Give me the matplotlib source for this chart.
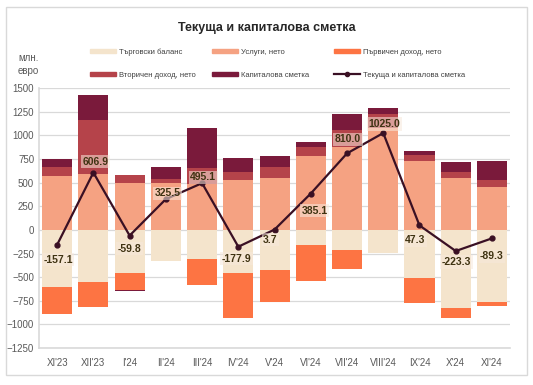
import matplotlib.pyplot as plt
import numpy as np
from matplotlib.patches import Rectangle
from matplotlib.lines import Line2D

plt.rcParams['font.family'] = ['Liberation Sans', 'DejaVu Sans']

# months and components (mln. euro)
months = ["XI'23", "XII'23", "I'24", "II'24", "III'24", "IV'24", "V'24",
          "VI'24", "VII'24", "VIII'24", "IX'24", "X'24", "XI'24"]
trade = [-604, -554, -460, -328, -304, -459, -427, -155, -208, -244, -508, -830, -759]
services = [573, 595, 492, 500, 490, 530, 545, 782, 880, 1080, 732, 552, 449]
primary = [-289, -265, -177, 0, -275, -473, -339, -382, -202, 0, -269, -102, -46]
secondary = [95, 572, 92, 36, 170, 85, 123, 99, 180, 150, 60, 63, 82]
capital = [82, 265, -14, 127, 420, 145, 110, 53, 166, 56, 39, 99, 194]
total = [-157.1, 606.9, -59.8, 325.5, 495.1, -177.9, 3.7, 385.1, 810.0, 1025.0, 47.3, -223.3, -89.3]

# label offsets in pixels (dx, dy)
lbl_off = [(1, -15), (2, 11), (0, -13), (2, 6), (1, 6), (-2, -12), (-4, -10),
           (4, -17), (1, 14), (1, 9), (-4, -15), (1, -11), (0, -18)]

c_trade = '#f4e4cc'
c_serv = '#f5a282'
c_prim = '#fd7443'
c_sec = '#b5434a'
c_cap = '#7a1a3b'
c_line = '#3a1024'

fig = plt.figure(figsize=(5.33, 3.85), dpi=100)
ax = fig.add_axes([0.0732, 0.096, 0.8838, 0.675])

x = np.arange(len(months))
w = 0.83

# stack positives and negatives separately
pos = np.zeros(len(x))
neg = np.zeros(len(x))
for vals, col in [(trade, c_trade), (services, c_serv), (primary, c_prim),
                  (secondary, c_sec), (capital, c_cap)]:
    v = np.array(vals, dtype=float)
    bottoms = np.where(v >= 0, pos, neg)
    ax.bar(x, v, w, bottom=bottoms, color=col, zorder=2)
    pos = pos + np.where(v >= 0, v, 0)
    neg = neg + np.where(v < 0, v, 0)

ax.plot(x, total, color=c_line, lw=1.6, marker='o', ms=3.5, zorder=4)

for i, t in enumerate(total):
    ax.annotate(f"{t:.1f}", (x[i], t), xytext=lbl_off[i], textcoords='offset pixels',
                ha='center', va='center', fontsize=7.5, fontweight='bold', color='#3f3312',
                zorder=5,
                bbox=dict(boxstyle='square,pad=0.15', fc='#f7e9dc', ec='none', alpha=0.55))

ax.set_xlim(-0.5, 12.5)
ax.set_ylim(-1250, 1500)
ax.set_yticks(np.arange(-1250, 1501, 250))
ax.set_xticks(x)
ax.set_xticklabels(months)
ax.tick_params(axis='both', length=0, labelsize=7, colors='#595959')
ax.tick_params(axis='x', pad=7)
ax.grid(axis='y', color='#d9d9d9', lw=0.9, zorder=0)
for s in ['top', 'right']:
    ax.spines[s].set_visible(False)
ax.spines['left'].set_color('#d9d9d9')
ax.spines['bottom'].set_color('#d9d9d9')
ax.spines['left'].set_linewidth(1.2)
ax.spines['bottom'].set_linewidth(1.2)

fig.text(0.5, 0.928, 'Текуща и капиталова сметка', ha='center', va='center',
         fontsize=9, fontweight='bold', color='#262626')
fig.text(0.034, 0.833, 'млн.\nевро', ha='left', va='center', fontsize=7,
         color='#595959', linespacing=1.4)

# legend: three columns placed like the original
legend_cols = [
    ([Rectangle((0, 0), 1, 1, color=c_trade), Rectangle((0, 0), 1, 1, color=c_sec)],
     ['Търговски баланс', 'Вторичен доход, нето'], 0.169),
    ([Rectangle((0, 0), 1, 1, color=c_serv), Rectangle((0, 0), 1, 1, color=c_cap)],
     ['Услуги, нето', 'Капиталова сметка'], 0.398),
    ([Rectangle((0, 0), 1, 1, color=c_prim),
      Line2D([], [], color=c_line, lw=1.6, marker='o', ms=3)],
     ['Първичен доход, нето', 'Текуща и капиталова сметка'], 0.627),
]
for h, l, lx in legend_cols:
    fig.legend(h, l, loc='center left', bbox_to_anchor=(lx, 0.835), frameon=False,
               fontsize=5.5, handlelength=3.4, handleheight=0.5, labelspacing=2.1,
               handletextpad=0.4, borderpad=0, borderaxespad=0, labelcolor='#404040')

fig.patches.append(Rectangle((0.011, 0.026), 0.978, 0.956, transform=fig.transFigure,
                             fill=False, ec='#d9d9d9', lw=1))

fig.savefig('out.png', dpi=100)
